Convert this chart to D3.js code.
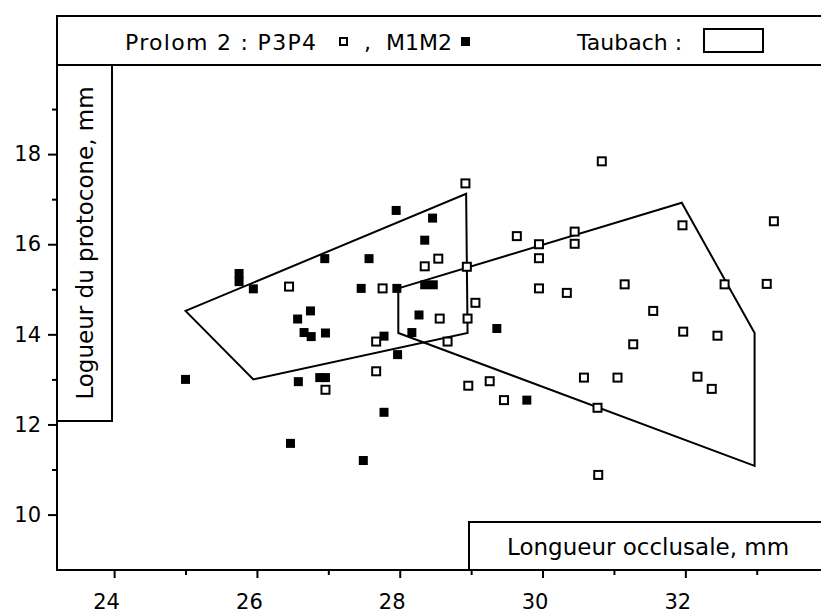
<!DOCTYPE html>
<html>
<head>
<meta charset="utf-8">
<script src="https://cdnjs.cloudflare.com/ajax/libs/d3/7.8.5/d3.min.js"></script>
<style>
body { margin:0; background:#fff; }
text { font-family:"DejaVu Sans", sans-serif; fill:#000; }
</style>
</head>
<body>
<script>
// Prolom 2 : P3P4 (open squares)
var p3p4X = [26.45, 26.96, 28.92, 29.64, 29.95, 30.45, 30.45, 29.95, 28.54, 28.35,
             28.94, 27.76, 29.95, 30.34, 29.06, 28.56, 28.95, 27.67, 28.67, 27.67,
             28.96, 29.26, 29.46, 30.58, 30.77, 30.78, 30.83, 31.96, 33.24, 31.15,
             32.55, 33.14, 31.55, 31.97, 32.45, 31.27, 31.05, 32.17, 32.37];
var p3p4Y = [15.06, 12.77, 17.35, 16.18, 16.0, 16.28, 16.01, 15.69, 15.68, 15.51,
             15.50, 15.02, 15.02, 14.92, 14.70, 14.35, 14.35, 13.84, 13.84, 13.18,
             12.86, 12.96, 12.54, 13.04, 12.37, 10.88, 17.84, 16.42, 16.51, 15.11,
             15.11, 15.12, 14.52, 14.06, 13.97, 13.78, 13.04, 13.06, 12.79];

// Prolom 2 : M1M2 (filled squares)
var m1m2X = [25.0, 25.75, 25.75, 25.95, 26.95, 26.75, 26.57, 26.66, 26.76, 26.96,
             26.58, 26.88, 26.96, 26.47, 27.95, 28.46, 28.35, 27.57, 27.46, 27.96,
             28.35, 28.47, 28.27, 29.36, 27.78, 28.17, 27.97, 29.78, 27.78, 27.49];
var m1m2Y = [13.0, 15.35, 15.17, 15.01, 15.68, 14.52, 14.34, 14.04, 13.95, 14.03,
             12.95, 13.04, 13.04, 11.58, 16.75, 16.58, 16.09, 15.68, 15.02, 15.02,
             15.10, 15.10, 14.43, 14.13, 13.96, 14.04, 13.55, 12.54, 12.27, 11.2];

// Taubach ranges
var taubach1X = [25.0, 28.93, 28.95, 25.95];
var taubach1Y = [14.52, 17.12, 14.03, 13.0];
var taubach2X = [27.98, 31.95, 32.97, 32.97, 27.98];
var taubach2Y = [15.02, 16.92, 14.03, 11.08, 14.03];

var xTicks = [24, 26, 28, 30, 32], xMinor = [25, 27, 29, 31, 33];
var yTicks = [10, 12, 14, 16, 18], yMinor = [11, 13, 15, 17, 19];

var width = 821, height = 614;

var svg = d3.select("body").append("svg")
    .attr("width", width).attr("height", height);

var x = d3.scaleLinear().domain([23.2, 33.9]).range([57, 821]);
var y = d3.scaleLinear().domain([8.77, 20]).range([570, 64]);

// axes
var xAxis = svg.append("g").attr("transform", "translate(0,570)")
    .call(d3.axisBottom(x).tickValues(xTicks).tickSize(8).tickPadding(16).tickSizeOuter(0).tickFormat(d3.format("d")));
xAxis.selectAll("text").attr("dx", -8).style("font-size", "21px");
svg.append("g").attr("transform", "translate(0,570)")
    .call(d3.axisBottom(x).tickValues(xMinor).tickSize(5).tickSizeOuter(0).tickFormat(""));

var yAxis = svg.append("g").attr("transform", "translate(57,0)")
    .call(d3.axisLeft(y).tickValues(yTicks).tickSize(9).tickPadding(7).tickSizeOuter(0).tickFormat(d3.format("d")));
yAxis.selectAll("text").style("font-size", "21px");
svg.append("g").attr("transform", "translate(57,0)")
    .call(d3.axisLeft(y).tickValues(yMinor).tickSize(5).tickSizeOuter(0).tickFormat(""));

svg.selectAll(".domain").remove();
svg.selectAll(".tick line").attr("stroke", "#000").attr("stroke-width", 2);

// frame
svg.append("line").attr("x1", 57).attr("y1", 64).attr("x2", 57).attr("y2", 571)
    .attr("stroke", "#000").attr("stroke-width", 2);
svg.append("line").attr("x1", 56).attr("y1", 570).attr("x2", 821).attr("y2", 570)
    .attr("stroke", "#000").attr("stroke-width", 2);

// header box
svg.append("rect").attr("x", 57).attr("y", 16).attr("width", 775).attr("height", 49)
    .attr("fill", "none").attr("stroke", "#000").attr("stroke-width", 2);

// y title box
svg.append("rect").attr("x", 57).attr("y", 65).attr("width", 55).attr("height", 356)
    .attr("fill", "none").attr("stroke", "#000").attr("stroke-width", 2);
svg.append("text").attr("transform", "translate(93,243) rotate(-90)")
    .attr("text-anchor", "middle").style("font-size", "23px")
    .text("Logueur du protocone, mm");

// x title box
svg.append("rect").attr("x", 469).attr("y", 522).attr("width", 360).attr("height", 48)
    .attr("fill", "none").attr("stroke", "#000").attr("stroke-width", 2);
svg.append("text").attr("x", 507).attr("y", 555).style("font-size", "23px")
    .text("Longueur occlusale, mm");

// Taubach polygons
var line = d3.line().x(function(d){ return x(d[0]); }).y(function(d){ return y(d[1]); }).curve(d3.curveLinearClosed);
svg.append("path").attr("d", line(d3.zip(taubach1X, taubach1Y)))
    .attr("fill", "none").attr("stroke", "#000").attr("stroke-width", 2);
svg.append("path").attr("d", line(d3.zip(taubach2X, taubach2Y)))
    .attr("fill", "none").attr("stroke", "#000").attr("stroke-width", 2);

// points
svg.append("g").selectAll("rect").data(d3.zip(m1m2X, m1m2Y)).enter().append("rect")
    .attr("x", function(d){ return x(d[0]) - 4.5; })
    .attr("y", function(d){ return y(d[1]) - 4.5; })
    .attr("width", 9).attr("height", 9).attr("fill", "#000");

svg.append("g").selectAll("rect").data(d3.zip(p3p4X, p3p4Y)).enter().append("rect")
    .attr("x", function(d){ return x(d[0]) - 4; })
    .attr("y", function(d){ return y(d[1]) - 4; })
    .attr("width", 8).attr("height", 8)
    .attr("fill", "#fff").attr("stroke", "#000").attr("stroke-width", 2);

// legend
var leg = svg.append("g").style("font-size", "22px");
leg.append("text").attr("x", 125).attr("y", 50).style("letter-spacing", "1.3px").text("Prolom 2 : P3P4");
leg.append("rect").attr("x", 340).attr("y", 38).attr("width", 7).attr("height", 7)
    .attr("fill", "#fff").attr("stroke", "#000").attr("stroke-width", 2);
leg.append("text").attr("x", 364).attr("y", 50).text(",");
leg.append("text").attr("x", 386).attr("y", 50).text("M1M2");
leg.append("rect").attr("x", 461).attr("y", 37).attr("width", 9).attr("height", 9).attr("fill", "#000");
leg.append("text").attr("x", 577).attr("y", 50).text("Taubach :");
leg.append("rect").attr("x", 704).attr("y", 29).attr("width", 59).attr("height", 23)
    .attr("fill", "none").attr("stroke", "#000").attr("stroke-width", 2);
</script>
</body>
</html>
